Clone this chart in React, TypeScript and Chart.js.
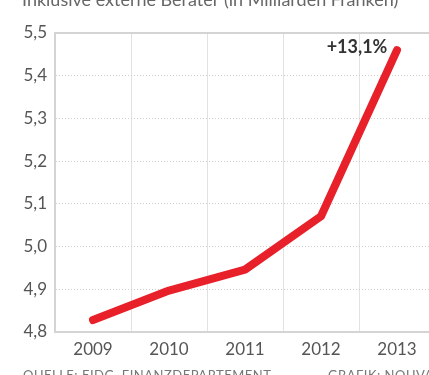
import React, { useEffect, useRef } from "react";
import { Chart, registerables } from "chart.js";

Chart.register(...registerables);

const years = ["2009", "2010", "2011", "2012", "2013"];
const costs = [4.828, 4.897, 4.946, 5.071, 5.46];
const yMin = 4.8;
const yMax = 5.5;
const yStep = 0.1;
const titleText = "Inklusive externe Berater (in Milliarden Franken)";
const annotationText = "+13,1%";
const sourceText = "QUELLE: EIDG. FINANZDEPARTEMENT";
const creditText = "GRAFIK: NOUVAL";

const FONT = "Lato, 'Noto Sans', sans-serif";

export default function App() {
  const ref = useRef<HTMLCanvasElement | null>(null);
  useEffect(() => {
    const canvas = ref.current;
    if (!canvas) return;
    const decor = {
      id: "decor",
      afterDraw(chart: any) {
        const { ctx, chartArea } = chart;
        ctx.save();
        // top border
        ctx.strokeStyle = "#d4d4d4";
        ctx.lineWidth = 2;
        ctx.beginPath();
        ctx.moveTo(chartArea.left, chartArea.top);
        ctx.lineTo(chartArea.right, chartArea.top);
        ctx.stroke();
        // title
        ctx.fillStyle = "#666666";
        ctx.font = `18px ${FONT}`;
        ctx.textAlign = "left";
        ctx.textBaseline = "alphabetic";
        ctx.fillText(titleText, 22, 6);
        // footer
        ctx.fillStyle = "#777777";
        ctx.font = `13px ${FONT}`;
        (ctx as any).letterSpacing = "0.5px";
        ctx.fillText(sourceText, 23, 380);
        ctx.fillText(creditText, 328, 380);
        (ctx as any).letterSpacing = "0px";
        // annotation
        ctx.fillStyle = "#333333";
        ctx.font = `bold 18px ${FONT}`;
        ctx.textAlign = "center";
        ctx.textBaseline = "middle";
        ctx.fillText(annotationText, 357, 47);
        ctx.restore();
      },
    };
    const chart = new Chart(canvas, {
      type: "line",
      data: {
        labels: years,
        datasets: [
          {
            data: costs,
            borderColor: "#e8202a",
            borderWidth: 8,
            borderCapStyle: "round",
            borderJoinStyle: "round",
            pointRadius: 0,
            tension: 0,
            fill: false,
            clip: false as any,
          },
        ],
      },
      options: {
        responsive: false,
        animation: false,
        devicePixelRatio: 1,
        layout: { padding: { top: 33, right: 5, bottom: 0, left: 0 } },
        plugins: { legend: { display: false }, tooltip: { enabled: false } },
        scales: {
          x: {
            offset: true,
            grid: { offset: true, color: "#e2e2e2", lineWidth: 1, drawTicks: false },
            border: { color: "#d4d4d4", width: 2 },
            ticks: { color: "#555555", font: { family: FONT, size: 17 }, padding: 7 },
            afterFit(scale: any) {
              scale.height = 43;
            },
          },
          y: {
            min: yMin,
            max: yMax,
            grid: { color: "#cfcfcf", lineWidth: 1, drawTicks: false },
            border: { color: "#d4d4d4", width: 2, dash: [1, 2] },
            ticks: {
              stepSize: yStep,
              color: "#555555",
              font: { family: FONT, size: 17 },
              padding: 8,
              callback: (v: any) => Number(v).toFixed(1).replace(".", ","),
            },
            afterFit(scale: any) {
              scale.width = 55;
            },
          },
        },
      },
      plugins: [decor],
    } as any);
    return () => chart.destroy();
  }, []);
  return (
    <div style={{ position: "fixed", left: 0, top: 0, width: 440, height: 375, overflow: "hidden", background: "#fff" }}>
      <canvas ref={ref} width={440} height={375} style={{ display: "block" }} />
    </div>
  );
}
